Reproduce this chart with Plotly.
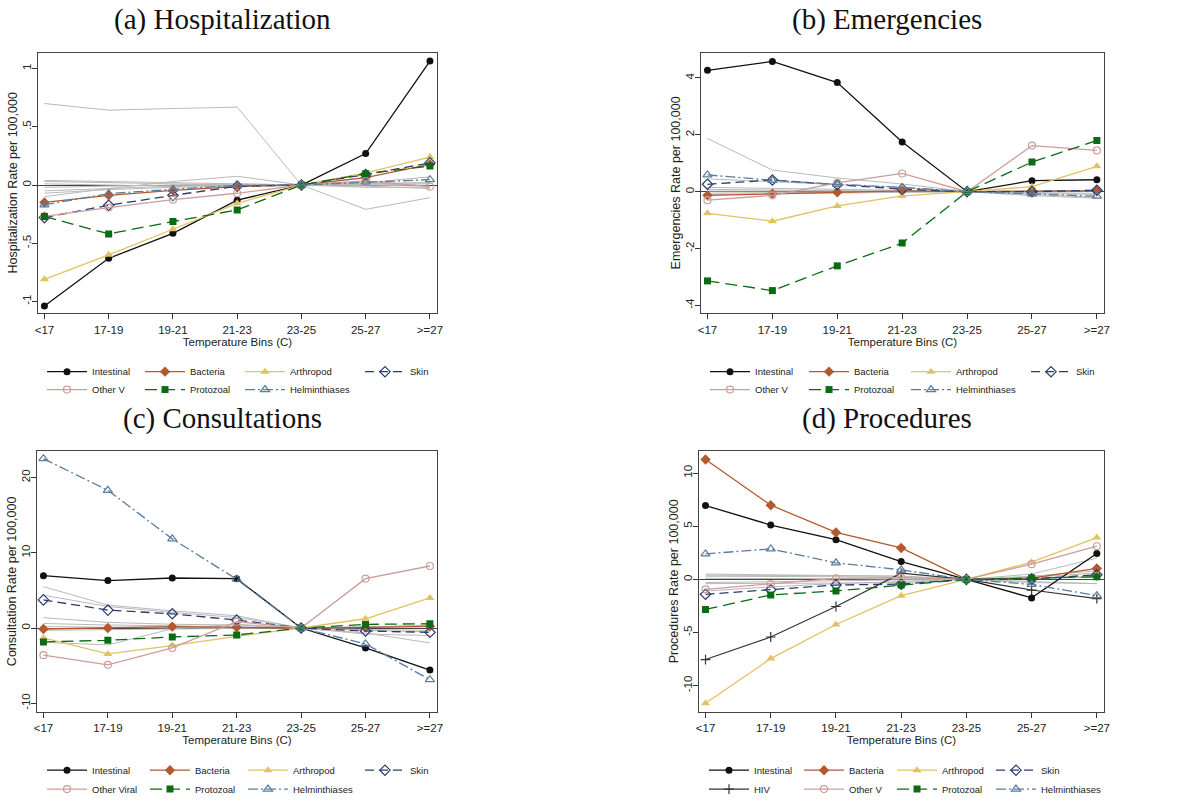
import plotly.graph_objects as go

# ---------------- data ----------------
bins = ["<17", "17-19", "19-21", "21-23", "23-25", "25-27", ">=27"]

# (a) Hospitalization
hosp_intestinal = [-1.04, -0.63, -0.415, -0.13, 0.0, 0.27, 1.065]
hosp_bacteria = [-0.15, -0.089, -0.046, -0.014, 0.0, 0.063, 0.177]
hosp_arthropod = [-0.81, -0.60, -0.38, -0.157, 0.0, 0.105, 0.24]
hosp_skin = [-0.28, -0.174, -0.089, -0.01, 0.0, 0.09, 0.19]
hosp_otherv = [-0.27, -0.194, -0.126, -0.071, 0.0, 0.035, -0.014]
hosp_protozoal = [-0.27, -0.42, -0.314, -0.214, 0.0, 0.097, 0.163]
hosp_helminth = [-0.17, -0.074, -0.037, -0.003, 0.0, 0.026, 0.046]
hosp_unlabelled = [
    [0.70, 0.643, 0.657, 0.669, 0.0, -0.209, -0.109],
    [-0.10, -0.03, 0.03, 0.075, 0.0, 0.02, 0.07],
    [0.04, 0.03, 0.02, 0.01, 0.0, -0.01, -0.03],
    [0.03, 0.02, 0.01, 0.0, 0.0, 0.01, 0.02],
    [-0.02, -0.01, 0.0, 0.01, 0.0, 0.0, -0.01],
    [-0.05, -0.03, -0.01, 0.0, 0.0, 0.01, 0.02],
    [-0.07, -0.04, -0.02, -0.01, 0.0, 0.0, 0.01],
    [0.01, 0.0, -0.01, 0.0, 0.0, -0.02, -0.02],
]

# (b) Emergencies
emer_intestinal = [4.27, 4.58, 3.84, 1.75, 0.0, 0.385, 0.42]
emer_bacteria = [-0.13, -0.07, -0.02, 0.03, 0.0, 0.01, 0.03]
emer_arthropod = [-0.76, -1.04, -0.50, -0.15, 0.0, 0.175, 0.89]
emer_skin = [0.26, 0.41, 0.245, 0.09, 0.0, 0.0, 0.05]
emer_otherv = [-0.30, -0.13, 0.31, 0.64, 0.0, 1.62, 1.45]
emer_protozoal = [-3.14, -3.48, -2.61, -1.81, 0.0, 1.04, 1.80]
emer_helminth = [0.59, 0.40, 0.26, 0.15, 0.0, -0.09, -0.16]
emer_unlabelled = [
    [1.87, 0.76, 0.48, 0.27, 0.0, -0.14, -0.23],
    [0.45, 0.35, 0.25, 0.15, 0.0, -0.10, -0.20],
    [0.15, 0.12, 0.10, 0.05, 0.0, -0.05, -0.10],
    [0.08, 0.06, 0.05, 0.03, 0.0, -0.03, -0.06],
    [-0.05, -0.03, -0.02, -0.01, 0.0, 0.02, 0.03],
    [0.02, 0.02, 0.01, 0.01, 0.0, 0.01, 0.02],
    [-0.10, -0.08, -0.05, -0.02, 0.0, 0.03, 0.05],
]

# (c) Consultations
cons_intestinal = [6.96, 6.30, 6.65, 6.56, 0.0, -2.64, -5.59]
cons_bacteria = [-0.13, 0.0, 0.18, 0.09, 0.0, 0.09, 0.22]
cons_arthropod = [-1.32, -3.44, -2.33, -1.10, 0.0, 1.23, 4.0]
cons_skin = [3.74, 2.38, 1.89, 1.06, 0.0, -0.40, -0.57]
cons_otherv = [-3.61, -4.89, -2.64, 0.84, 0.0, 6.56, 8.24]
cons_protozoal = [-1.85, -1.63, -1.19, -0.93, 0.0, 0.48, 0.57]
cons_helminth = [22.5, 18.3, 11.85, 6.48, 0.0, -2.11, -6.87]
cons_unlabelled = [
    [5.5, 3.04, 2.29, 1.63, 0.0, -0.66, -1.98],
    [4.36, 2.86, 2.07, 1.40, 0.0, -0.30, -0.50],
    [1.37, 0.75, 0.50, 0.40, 0.0, -0.80, -1.00],
    [-1.9, -2.25, -0.10, 0.50, 0.0, 0.20, 0.30],
    [0.6, 0.4, 0.3, 0.2, 0.0, -0.2, -0.3],
    [-0.3, -0.2, -0.1, 0.0, 0.0, 0.1, 0.2],
    [0.2, 0.1, 0.1, 0.05, 0.0, 0.1, 0.4],
]

# (d) Procedures
proc_intestinal = [6.95, 5.11, 3.74, 1.68, 0.0, -1.74, 2.43]
proc_bacteria = [11.28, 6.98, 4.42, 2.96, 0.0, 0.12, 1.03]
proc_arthropod = [-11.65, -7.45, -4.24, -1.53, 0.0, 1.62, 3.93]
proc_skin = [-1.40, -0.97, -0.53, -0.44, 0.0, 0.03, 0.44]
proc_hiv = [-7.54, -5.42, -2.55, 0.59, 0.0, -1.0, -1.81]
proc_otherv = [-0.93, -0.44, 0.09, 0.16, 0.0, 1.43, 3.12]
proc_protozoal = [-2.83, -1.46, -1.09, -0.53, 0.0, 0.12, 0.25]
proc_helminth = [2.40, 2.87, 1.56, 0.90, 0.0, -0.47, -1.53]
proc_unlabelled = [
    [0.4, 0.4, 0.35, 0.3, 0.0, 0.5, 2.0],
    [0.5, 0.45, 0.4, 0.3, 0.0, 0.2, 0.6],
    [0.3, 0.3, 0.25, 0.2, 0.0, 0.1, 0.3],
    [-0.3, -0.2, -0.1, -0.05, 0.0, 0.1, 0.2],
    [-1.1, -0.7, -0.4, -0.2, 0.0, -0.2, -0.4],
    [-0.4, -0.4, -0.35, -0.3, 0.0, -0.3, -0.4],
    [0.1, 0.1, 0.1, 0.05, 0.0, 0.3, 0.8],
]

panel_titles = ["(a) Hospitalization", "(b) Emergencies", "(c) Consultations", "(d) Procedures"]
y_titles = ["Hospitalization Rate per 100,000", "Emergencies Rate per 100,000",
            "Consultation Rate per 100,000", "Procedures Rate per 100,000"]
hosp_ticks = [-1, -0.5, 0, 0.5, 1]
hosp_ticktext = ["-1", "-.5", "0", ".5", "1"]
emer_ticks = [-4, -2, 0, 2, 4]
emer_ticktext = ["-4", "-2", "0", "2", "4"]
cons_ticks = [-10, 0, 10, 20]
cons_ticktext = ["-10", "0", "10", "20"]
proc_ticks = [-10, -5, 0, 5, 10]
proc_ticktext = ["-10", "-5", "0", "5", "10"]

# ---------------- styles ----------------
STY = {
    "Intestinal": dict(color="#111111", symbol="circle", size=7, dash="solid", width=1.3),
    "Bacteria": dict(color="#b4582f", symbol="diamond", size=8, dash="solid", width=1.3),
    "Arthropod": dict(color="#e2c262", symbol="triangle-up", size=8, dash="solid", width=1.3),
    "Skin": dict(color="#2b3b6e", symbol="diamond-open", size=8, dash="9px,5px", width=1.3),
    "Other": dict(color="#cc9e99", symbol="circle-open", size=7, dash="solid", width=1.3),
    "Protozoal": dict(color="#0b6b12", symbol="square", size=7, dash="12px,6px", width=1.3),
    "Helminthiases": dict(color="#5b7d9e", symbol="triangle-up-open", size=8,
                          dash="10px,3px,2px,3px", width=1.3),
    "HIV": dict(color="#333333", symbol="cross-thin-open", size=7, dash="solid", width=1.2),
}
GRAY = "#b9b9b9"

W, H = 1188, 804
x_pos = list(range(len(bins)))

panels = [
    dict(key="a", xdom=(38, 437), ydom=(53, 315), yr=(-1.10, 1.137),
         ticks=hosp_ticks, ticktext=hosp_ticktext, gray=hosp_unlabelled,
         rows=[[("Intestinal", "Intestinal", hosp_intestinal), ("Bacteria", "Bacteria", hosp_bacteria),
                ("Arthropod", "Arthropod", hosp_arthropod), ("Skin", "Skin", hosp_skin)],
               [("Other", "Other V", hosp_otherv), ("Protozoal", "Protozoal", hosp_protozoal),
                ("Helminthiases", "Helminthiases", hosp_helminth)]],
         colw=[[43, 45, 65, 45], [43, 45, 65]], legx=47, legy=(374, 392), titlex=222, titley=20),
    dict(key="b", xdom=(701, 1104), ydom=(53, 315), yr=(-4.27, 4.89),
         ticks=emer_ticks, ticktext=emer_ticktext, gray=emer_unlabelled,
         rows=[[("Intestinal", "Intestinal", emer_intestinal), ("Bacteria", "Bacteria", emer_bacteria),
                ("Arthropod", "Arthropod", emer_arthropod), ("Skin", "Skin", emer_skin)],
               [("Other", "Other V", emer_otherv), ("Protozoal", "Protozoal", emer_protozoal),
                ("Helminthiases", "Helminthiases", emer_helminth)]],
         colw=[[44, 47, 65, 45], [44, 47, 65]], legx=710, legy=(374, 392), titlex=887, titley=20),
    dict(key="c", xdom=(37, 437), ydom=(454, 716), yr=(-11.1, 23.5),
         ticks=cons_ticks, ticktext=cons_ticktext, gray=cons_unlabelled,
         rows=[[("Intestinal", "Intestinal", cons_intestinal), ("Bacteria", "Bacteria", cons_bacteria),
                ("Arthropod", "Arthropod", cons_arthropod), ("Skin", "Skin", cons_skin)],
               [("Other", "Other Viral", cons_otherv), ("Protozoal", "Protozoal", cons_protozoal),
                ("Helminthiases", "Helminthiases", cons_helminth)]],
         colw=[[48, 43, 62, 45], [48, 43, 62]], legx=47, legy=(775, 794), titlex=222, titley=421),
    dict(key="d", xdom=(699, 1104), ydom=(454, 716), yr=(-12.43, 12.06),
         ticks=proc_ticks, ticktext=proc_ticktext, gray=proc_unlabelled,
         rows=[[("Intestinal", "Intestinal", proc_intestinal), ("Bacteria", "Bacteria", proc_bacteria),
                ("Arthropod", "Arthropod", proc_arthropod), ("Skin", "Skin", proc_skin)],
               [("HIV", "HIV", proc_hiv), ("Other", "Other V", proc_otherv),
                ("Protozoal", "Protozoal", proc_protozoal), ("Helminthiases", "Helminthiases", proc_helminth)]],
         colw=[[40, 38, 44, 64], [40, 38, 44, 64]], legx=709, legy=(775, 794), titlex=887, titley=421),
]

fig = go.Figure()
layout = dict(
    width=W, height=H, template="none",
    margin=dict(l=0, r=0, t=0, b=0, pad=0),
    paper_bgcolor="white", plot_bgcolor="white",
    font=dict(family="Liberation Sans, Arial, sans-serif", color="#222222"),
    showlegend=True, annotations=[],
)

leg_idx = 0
for i, p in enumerate(panels):
    ax = "" if i == 0 else str(i + 1)
    xref, yref = "x" + ax, "y" + ax
    # unlabelled categories (gray)
    for g in p["gray"]:
        fig.add_trace(go.Scatter(x=x_pos, y=g, mode="lines", xaxis=xref, yaxis=yref,
                                 line=dict(color=GRAY, width=1.0), showlegend=False, hoverinfo="skip"))
    for r, row in enumerate(p["rows"]):
        leg_idx += 1
        lname = "legend" if leg_idx == 1 else "legend%d" % leg_idx
        for c, (sk, name, vals) in enumerate(row):
            s = STY[sk]
            mk = dict(symbol=s["symbol"], size=s["size"], color=s["color"])
            if s["symbol"].endswith("open"):
                mk["line"] = dict(color=s["color"], width=1.2)
            else:
                mk["line"] = dict(width=0)
            fig.add_trace(go.Scatter(
                x=x_pos, y=vals, mode="lines+markers", name=name, xaxis=xref, yaxis=yref,
                line=dict(color=s["color"], width=s["width"], dash=s["dash"]),
                marker=mk, legend=lname, legendwidth=p["colw"][r][c]))
        layout[lname] = dict(
            orientation="h", x=(p["legx"] - 5) / W, xanchor="left",
            y=1 - p["legy"][r] / H, yanchor="middle",
            bgcolor="rgba(0,0,0,0)", borderwidth=0, itemwidth=40,
            font=dict(size=9.5, color="#222222"), tracegroupgap=0,
        )
    xd = (p["xdom"][0] / W, p["xdom"][1] / W)
    yd = (1 - p["ydom"][1] / H, 1 - p["ydom"][0] / H)
    layout["xaxis" + ax] = dict(
        domain=xd, anchor=yref, range=[-0.1, 6.11], tickmode="array",
        tickvals=x_pos, ticktext=bins, ticks="outside", ticklen=5, tickcolor="#333",
        showline=True, linecolor="#444", linewidth=1, mirror=True, showgrid=False,
        zeroline=False, tickfont=dict(size=11.5), automargin=False, ticklabelstandoff=1,
        title=dict(text="Temperature Bins (C)", font=dict(size=11.5), standoff=0),
    )
    layout["yaxis" + ax] = dict(
        domain=yd, anchor=xref, range=list(p["yr"]), tickmode="array",
        tickvals=p["ticks"], ticktext=p["ticktext"], tickangle=-90,
        ticks="outside", ticklen=5, tickcolor="#333", ticklabelstandoff=-4,
        showline=True, linecolor="#444", linewidth=1, mirror=True, showgrid=False,
        zeroline=True, zerolinecolor="#444", zerolinewidth=1,
        tickfont=dict(size=11.5), automargin=False,
        title=dict(text=y_titles[i], font=dict(size=12.5), standoff=1),
    )
    layout["annotations"].append(dict(
        text=panel_titles[i], x=p["titlex"] / W, y=1 - p["titley"] / H, xref="paper", yref="paper",
        xanchor="center", yanchor="middle", showarrow=False,
        font=dict(family="Liberation Serif, Times New Roman, serif", size=29, color="#111111")))

fig.update_layout(**layout)
fig.write_html("out.html")
